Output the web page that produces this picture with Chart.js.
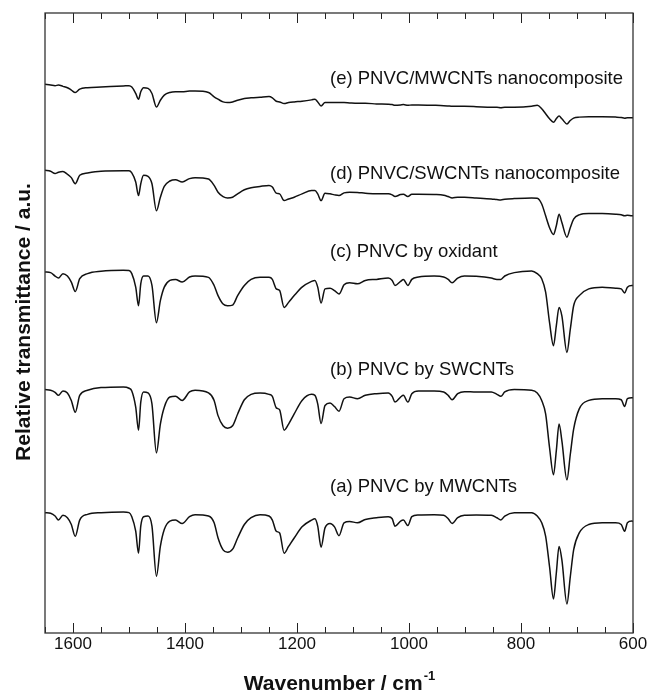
<!DOCTYPE html>
<html>
<head>
<meta charset="utf-8">
<title>FT-IR spectra of PNVC</title>
<script src="https://cdn.jsdelivr.net/npm/chart.js@4.4.1/dist/chart.umd.min.js"></script>
<style>
  html, body { margin: 0; padding: 0; background: #fff; }
  #wrap { width: 651px; height: 692px; }
</style>
</head>
<body>
<div id="wrap"><canvas id="irChart" width="651" height="692"></canvas></div>
<script>
// wavenumber grid (cm-1)
const wavenumbers = [1650, 1640, 1632, 1626, 1618, 1610, 1603, 1596, 1588, 1574,
  1550, 1510, 1500, 1495, 1488, 1483, 1479, 1474, 1466, 1459,
  1451, 1444, 1437, 1427, 1417, 1405, 1392, 1382, 1358, 1348,
  1341, 1332, 1324, 1315, 1306, 1294, 1282, 1266, 1250, 1244,
  1237, 1231, 1223, 1215, 1205, 1191, 1174, 1168, 1163, 1157,
  1150, 1141, 1133, 1125, 1116, 1106, 1092, 1078, 1058, 1037,
  1030, 1025, 1015, 1010, 1002, 995, 983, 955, 938, 930,
  923, 913, 901, 880, 853, 843, 836, 829, 812, 781,
  771, 763, 756, 749, 742, 737, 732, 727, 718, 712,
  706, 696, 679, 655, 631, 621, 615, 610, 602, 600];

// relative transmittance (a.u., already offset per curve)
const specA = [356, 354, 346, 334, 348, 341, 321, 286, 334, 351,
  356, 358, 356, 344, 301, 236, 316, 344, 346, 316,
  168, 256, 306, 331, 334, 324, 344, 350, 346, 326,
  281, 246, 239, 248, 281, 321, 341, 350, 346, 334,
  301, 296, 236, 256, 281, 314, 334, 338, 316, 254,
  311, 324, 314, 288, 326, 330, 326, 336, 341, 344,
  338, 316, 331, 334, 318, 344, 349, 350, 348, 338,
  324, 341, 348, 349, 348, 341, 334, 346, 356, 356,
  346, 326, 286, 196, 101, 176, 256, 216, 86, 166,
  246, 296, 321, 326, 326, 321, 301, 326, 331, 330];

const specB = [720, 718, 712, 703, 716, 710, 688, 653, 703, 718,
  726, 728, 724, 716, 668, 600, 683, 713, 710, 678,
  533, 618, 668, 698, 700, 688, 713, 718, 710, 688,
  643, 613, 606, 613, 648, 690, 706, 710, 706, 700,
  666, 660, 600, 618, 648, 688, 706, 703, 678, 620,
  673, 680, 670, 656, 693, 698, 693, 703, 708, 710,
  700, 683, 698, 703, 683, 708, 716, 716, 713, 703,
  690, 708, 714, 713, 713, 706, 700, 713, 720, 718,
  710, 688, 648, 548, 468, 538, 618, 568, 453, 528,
  603, 663, 688, 693, 693, 690, 670, 693, 696, 696];

const specC = [1068, 1066, 1056, 1050, 1063, 1056, 1038, 1010, 1048, 1063,
  1070, 1073, 1072, 1063, 1023, 968, 1033, 1056, 1056, 1028,
  918, 983, 1023, 1043, 1046, 1038, 1053, 1056, 1052, 1028,
  998, 973, 968, 970, 998, 1028, 1046, 1052, 1052, 1046,
  1018, 1013, 963, 978, 998, 1023, 1040, 1043, 1023, 976,
  1018, 1020, 1013, 1003, 1030, 1036, 1033, 1043, 1046, 1050,
  1043, 1028, 1040, 1046, 1028, 1046, 1053, 1056, 1053, 1046,
  1036, 1050, 1056, 1055, 1050, 1046, 1046, 1056, 1066, 1071,
  1063, 1048, 1008, 918, 850, 908, 963, 938, 830, 898,
  968, 998, 1018, 1023, 1020, 1018, 1006, 1023, 1028, 1028];

const specD = [1369, 1366, 1359, 1363, 1365, 1357, 1347, 1329, 1354, 1361,
  1366, 1367, 1367, 1361, 1334, 1294, 1329, 1354, 1351, 1329,
  1249, 1289, 1321, 1337, 1341, 1334, 1344, 1347, 1343, 1324,
  1304, 1291, 1287, 1289, 1299, 1311, 1317, 1321, 1324, 1319,
  1301, 1299, 1279, 1284, 1289, 1299, 1309, 1309, 1299, 1279,
  1301, 1299, 1296, 1294, 1302, 1304, 1303, 1301, 1299, 1299,
  1296, 1291, 1297, 1298, 1291, 1298, 1298, 1297, 1295, 1291,
  1287, 1289, 1289, 1287, 1284, 1282, 1281, 1283, 1285, 1287,
  1286, 1269, 1234, 1199, 1179, 1204, 1239, 1214, 1171, 1199,
  1224, 1237, 1241, 1241, 1239, 1237, 1234, 1236, 1234, 1234];

const specE = [1623, 1621, 1619, 1621, 1617, 1613, 1606, 1599, 1609, 1613,
  1615, 1618, 1619, 1615, 1596, 1579, 1601, 1613, 1611, 1596,
  1556, 1576, 1591, 1599, 1601, 1601, 1603, 1603, 1599, 1586,
  1579, 1571, 1569, 1571, 1576, 1581, 1583, 1585, 1587, 1583,
  1573, 1571, 1566, 1569, 1571, 1573, 1577, 1579, 1571, 1559,
  1569, 1569, 1569, 1569, 1569, 1568, 1567, 1567, 1565, 1564,
  1563, 1561, 1562, 1563, 1561, 1562, 1562, 1561, 1560, 1559,
  1558, 1558, 1558, 1557, 1555, 1555, 1554, 1555, 1555, 1558,
  1561, 1551, 1536, 1521, 1511, 1521, 1529, 1521, 1506, 1516,
  1523, 1526, 1527, 1527, 1526, 1525, 1523, 1524, 1524, 1524];

const seriesNames = ['(a) PNVC by MWCNTs', '(b) PNVC by SWCNTs', '(c) PNVC by oxidant',
  '(d) PNVC/SWCNTs nanocomposite', '(e) PNVC/MWCNTs nanocomposite'];
const xTickValues = [1600, 1400, 1200, 1000, 800, 600];
const xRange = [600, 1650];
const yRange = [0, 1834];

const FONT = '"Liberation Sans", Arial, Helvetica, sans-serif';

function toPoints(values) {
  return wavenumbers.map((w, i) => ({ x: w, y: values[i] }));
}

// frame, inward ticks, curve labels and axis titles
const decorPlugin = {
  id: 'decor',
  afterDraw(chart) {
    const ctx = chart.ctx;
    const area = chart.chartArea;
    const xs = chart.scales.x;
    ctx.save();

    // ticks (inward, top and bottom)
    ctx.strokeStyle = '#222';
    ctx.lineWidth = 1;
    for (let v = xRange[0]; v <= xRange[1]; v += 50) {
      const px = Math.round(xs.getPixelForValue(v)) + 0.5;
      const len = v % 200 === 0 ? 10 : 6;
      ctx.beginPath();
      ctx.moveTo(px, area.bottom);
      ctx.lineTo(px, area.bottom - len);
      ctx.moveTo(px, area.top);
      ctx.lineTo(px, area.top + len);
      ctx.stroke();
    }

    // frame
    ctx.strokeStyle = '#333';
    ctx.lineWidth = 1.3;
    ctx.strokeRect(area.left, area.top, area.right - area.left, area.bottom - area.top);

    // curve labels
    ctx.fillStyle = '#111';
    ctx.font = '18.5px ' + FONT;
    ctx.textBaseline = 'middle';
    ctx.textAlign = 'left';
    ctx.fillText(seriesNames[4], 330, 79);
    ctx.fillText(seriesNames[3], 330, 174);
    ctx.fillText(seriesNames[2], 330, 252);
    ctx.fillText(seriesNames[1], 330, 370);
    ctx.fillText(seriesNames[0], 330, 487);

    // x title with superscript
    ctx.font = 'bold 21px ' + FONT;
    ctx.textBaseline = 'alphabetic';
    ctx.textAlign = 'left';
    const main = 'Wavenumber / cm';
    const w1 = ctx.measureText(main).width;
    ctx.font = 'bold 13px ' + FONT;
    const w2 = ctx.measureText('-1').width;
    const cx = (area.left + area.right) / 2;
    const startX = cx - (w1 + w2) / 2;
    ctx.font = 'bold 21px ' + FONT;
    ctx.fillText(main, startX, 690);
    ctx.font = 'bold 13px ' + FONT;
    ctx.fillText('-1', startX + w1 + 1, 680);

    // y title
    ctx.translate(24, 322);
    ctx.rotate(-Math.PI / 2);
    ctx.font = 'bold 21px ' + FONT;
    ctx.textAlign = 'center';
    ctx.textBaseline = 'middle';
    ctx.fillText('Relative transmittance / a.u.', 0, 0);

    ctx.restore();
  }
};

const specs = [specA, specB, specC, specD, specE];

const ctxIR = document.getElementById('irChart').getContext('2d');
const irChart = new Chart(ctxIR, {
  type: 'line',
  data: {
    datasets: specs.map((s, i) => ({
      label: seriesNames[i],
      data: toPoints(s),
      borderColor: '#111',
      borderWidth: 1.5,
      pointRadius: 0,
      fill: false,
      cubicInterpolationMode: 'monotone'
    }))
  },
  options: {
    responsive: false,
    animation: false,
    layout: { padding: { left: 45, top: 13, right: 18, bottom: 0 } },
    plugins: {
      legend: { display: false },
      tooltip: { enabled: false }
    },
    scales: {
      x: {
        type: 'linear',
        reverse: true,
        min: xRange[0],
        max: xRange[1],
        grid: { display: false, drawTicks: false },
        border: { display: false },
        afterBuildTicks: scale => {
          scale.ticks = xTickValues.map(v => ({ value: v }));
        },
        afterFit: scale => { scale.height = 59; },
        ticks: {
          autoSkip: false,
          maxRotation: 0,
          padding: 1,
          color: '#111',
          font: { family: FONT, size: 17 },
          callback: v => String(v)
        }
      },
      y: {
        display: false,
        min: yRange[0],
        max: yRange[1]
      }
    }
  },
  plugins: [decorPlugin]
});
</script>
</body>
</html>
